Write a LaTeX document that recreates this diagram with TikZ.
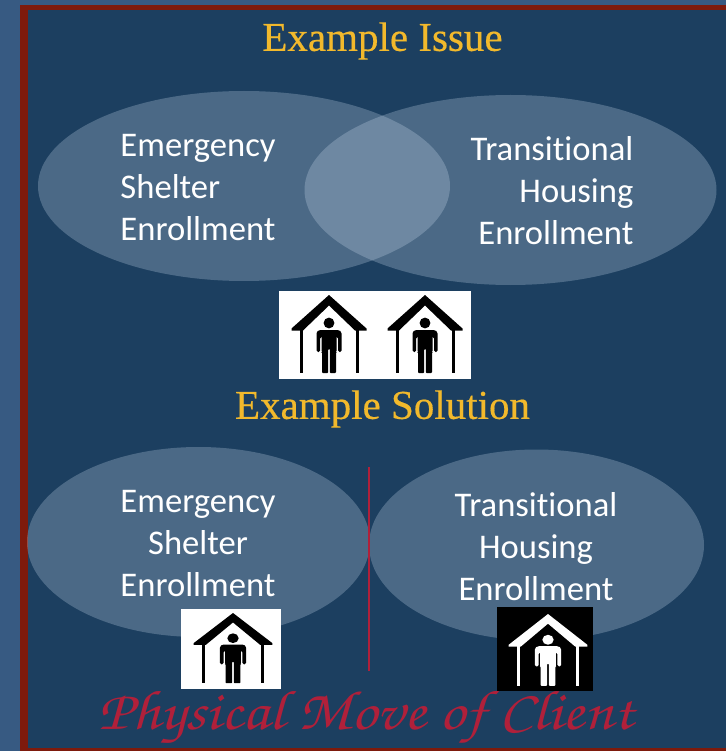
\documentclass[tikz,border=0pt]{standalone}
\usepackage{fontspec}
\setmainfont{Carlito}[Ligatures=NoCommon]
\newfontfamily\titlefont{Liberation Serif}[FakeBold=0.4]
\usetikzlibrary{shapes.geometric,positioning}
\definecolor{pagecol}{HTML}{375A82}
\definecolor{panelcol}{HTML}{1C3F60}
\definecolor{framecol}{HTML}{7E1A0C}
\definecolor{titlecol}{HTML}{F2B92C}
\definecolor{scriptcol}{HTML}{B0203A}
\definecolor{lenscol}{HTML}{D8E8F8}
\tikzset{
house/.pic={
\fill[#1] (0,0)--(37.5,33.5)--(37.5,35.5)--(26,35.5)--(0,10.5)--(-26,35.5)--(-37.5,35.5)--(-37.5,33.5)--cycle;
\fill[#1] (-29.5,35) rectangle (-26.5,78);
\fill[#1] (26.5,35) rectangle (29.5,78);
\fill[#1] (0,28) circle (5.4);
\fill[#1,rounded corners=1.5] (-12.5,57)--(-12.5,37)--(-10,35)--(10,35)--(12.5,37)--(12.5,57)--(9,57)--(9,42)--(-9,42)--(-9,57)--cycle;
\fill[#1,rounded corners=.8] (-7.5,38)--(7.5,38)--(7.5,57)--(7,57)--(7,78)--(.8,78)--(.8,54)--(-.8,54)--(-.8,78)--(-7,78)--(-7,57)--(-7.5,57)--cycle;
}
}
\begin{document}
\begin{tikzpicture}
[x=1pt,y=-1pt,
lens/.style = {ellipse, fill = lenscol, fill opacity = .25, inner sep = 0pt},
label/.style = {text = white, font = \fontsize{34.6}{42}\selectfont},
heading/.style = {text = titlecol, font = \titlefont\fontsize{41}{42}\selectfont},
iconbox/.style = {inner sep = 0pt},]
\useasboundingbox (0,0) rectangle (726,751);
\fill[pagecol] (0,0) rectangle (726,751);
\fill[framecol] (19.5,5) rectangle (726,751);
\fill[panelcol] (27.5,10) rectangle (726,748);
% top pair
\node (esTop) at (244,186)[lens,minimum width=412,minimum height=190] {};
\node (thTop) at (510.5,190)[lens,minimum width=412,minimum height=190] {};
\node (issue) at (382.5,41)[heading] {Example Issue};
\node (esTopText) at (198,188)[label,align=left] {Emergency\\Shelter\\Enrollment};
\node (thTopText) at (552,191)[label,align=right] {Transitional\\Housing\\Enrollment};
\node (twoBox) at (375,335)[iconbox,fill=white,minimum width=192,minimum height=88] {};
\pic at (329,295) {house=black};
\pic at (425,295) {house=black};
% bottom pair
\node (solution) at (382.5,409)[heading] {Example Solution};
\node (esBot) at (198.5,542)[lens,minimum width=343,minimum height=190] {};
\node (thBot) at (536.5,545)[lens,minimum width=335,minimum height=191] {};
\node (esBotText) at (198,544)[label,align=center] {Emergency\\Shelter\\Enrollment};
\node (thBotText) at (536,547)[label,align=center] {Transitional\\Housing\\Enrollment};
\coordinate (lineTop) at (369,467);
\coordinate (lineEnd) at (369,671);
\draw[scriptcol,line width=1.2pt] (lineTop)--(lineEnd);
\node (leftBox) at (231,649)[iconbox,fill=white,minimum width=100,minimum height=80] {};
\node (rightBox) at (545,649)[iconbox,fill=black,minimum width=96,minimum height=84] {};
\pic[xscale=1.05,yscale=.9] at (233,613) {house=black};
\pic[xscale=1.05,yscale=.92] at (548,614) {house=white};
\node (move) at (366,718)[text=scriptcol,xscale=1.13,transform shape,font=\fontencoding{T1}\fontfamily{pzc}\fontsize{56}{60}\selectfont] {Physical Move of Client};
\end{tikzpicture}
\end{document}
